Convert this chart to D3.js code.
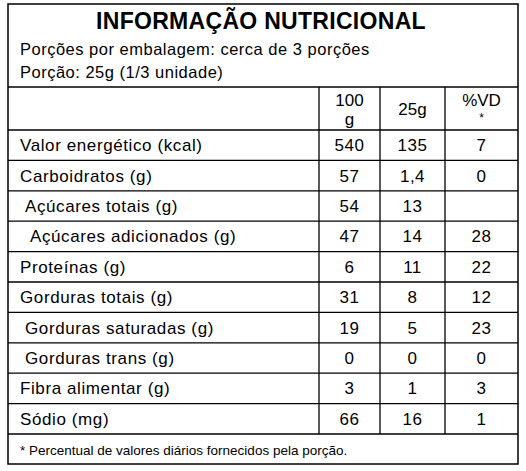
<!DOCTYPE html>
<html><head><meta charset="utf-8">
<script src="https://cdn.jsdelivr.net/npm/d3@7"></script>
<style>body{margin:0;background:#fff}</style></head>
<body><svg id="c" width="526" height="471"></svg>
<script>
var nutrients = ["Valor energético (kcal)", "Carboidratos (g)", "Açúcares totais (g)", "Açúcares adicionados (g)",
  "Proteínas (g)", "Gorduras totais (g)", "Gorduras saturadas (g)", "Gorduras trans (g)", "Fibra alimentar (g)", "Sódio (mg)"];
var indent = [0, 0, 1, 2, 0, 0, 1, 1, 0, 0];
var per100g = ["540", "57", "54", "47", "6", "31", "19", "0", "3", "66"];
var perPortion = ["135", "1,4", "13", "14", "11", "8", "5", "0", "1", "16"];
var dailyValue = ["7", "0", "", "28", "22", "12", "23", "0", "3", "1"];

var svg = d3.select("#c");
var font = "'Liberation Sans', Arial, sans-serif";
var boxLeft = 8, boxRight = 518, boxTop = 4, boxBottom = 464;
var colX = [boxLeft, 319, 380, 445, boxRight];

// row scale
var y = d3.scaleBand().domain(d3.range(nutrients.length)).range([130, 434]);

var g = svg.append("g").attr("font-family", font).attr("fill", "#000");

function line(x1, y1, x2, y2) {
  svg.append("line").attr("x1", x1).attr("y1", y1).attr("x2", x2).attr("y2", y2)
    .attr("stroke", "#000").attr("stroke-width", 1.3);
}

svg.append("rect").attr("x", boxLeft).attr("y", boxTop).attr("width", boxRight - boxLeft).attr("height", boxBottom - boxTop)
  .attr("fill", "none").attr("stroke", "#000").attr("stroke-width", 1.5);

g.append("text").attr("x", 261).attr("y", 29).attr("text-anchor", "middle")
  .attr("font-size", 23).attr("font-weight", "bold").attr("letter-spacing", 0.3).text("INFORMAÇÃO NUTRICIONAL");
g.append("text").attr("x", 20).attr("y", 55).attr("font-size", 16.5).attr("letter-spacing", 0.5).text("Porções por embalagem: cerca de 3 porções");
g.append("text").attr("x", 20).attr("y", 78).attr("font-size", 16.5).attr("letter-spacing", 0.5).text("Porção: 25g (1/3 unidade)");

line(boxLeft, 87, boxRight, 87);
line(boxLeft, 130, boxRight, 130);
nutrients.forEach(function (d, i) { line(boxLeft, y(i) + y.bandwidth(), boxRight, y(i) + y.bandwidth()); });
[1, 2, 3].forEach(function (k) { line(colX[k], 87, colX[k], 434); });

function mid(k) { return (colX[k] + colX[k + 1]) / 2; }
g.append("text").attr("x", mid(1)).attr("y", 106).attr("text-anchor", "middle").attr("font-size", 17).text("100");
g.append("text").attr("x", mid(1)).attr("y", 125).attr("text-anchor", "middle").attr("font-size", 17).text("g");
g.append("text").attr("x", mid(2)).attr("y", 115).attr("text-anchor", "middle").attr("font-size", 17).text("25g");
g.append("text").attr("x", mid(3)).attr("y", 106).attr("text-anchor", "middle").attr("font-size", 17).text("%VD");
g.append("text").attr("x", mid(3)).attr("y", 122).attr("text-anchor", "middle").attr("font-size", 12).text("*");

var rows = g.selectAll(".row").data(nutrients).enter().append("g")
  .attr("transform", function (d, i) { return "translate(0," + (y(i) + y.bandwidth() / 2 + 6) + ")"; })
  .attr("font-size", 17);
rows.append("text").attr("x", function (d, i) { return 20 + indent[i] * 5; }).attr("letter-spacing", 0.6)
  .text(function (d) { return d; });
rows.append("text").attr("x", mid(1)).attr("text-anchor", "middle").attr("letter-spacing", 0.5).text(function (d, i) { return per100g[i]; });
rows.append("text").attr("x", mid(2)).attr("text-anchor", "middle").attr("letter-spacing", 0.5).text(function (d, i) { return perPortion[i]; });
rows.append("text").attr("x", mid(3)).attr("text-anchor", "middle").attr("letter-spacing", 0.5).text(function (d, i) { return dailyValue[i]; });

g.append("text").attr("x", 20).attr("y", 455).attr("font-size", 13.5)
  .text("* Percentual de valores diários fornecidos pela porção.");
</script></body></html>
